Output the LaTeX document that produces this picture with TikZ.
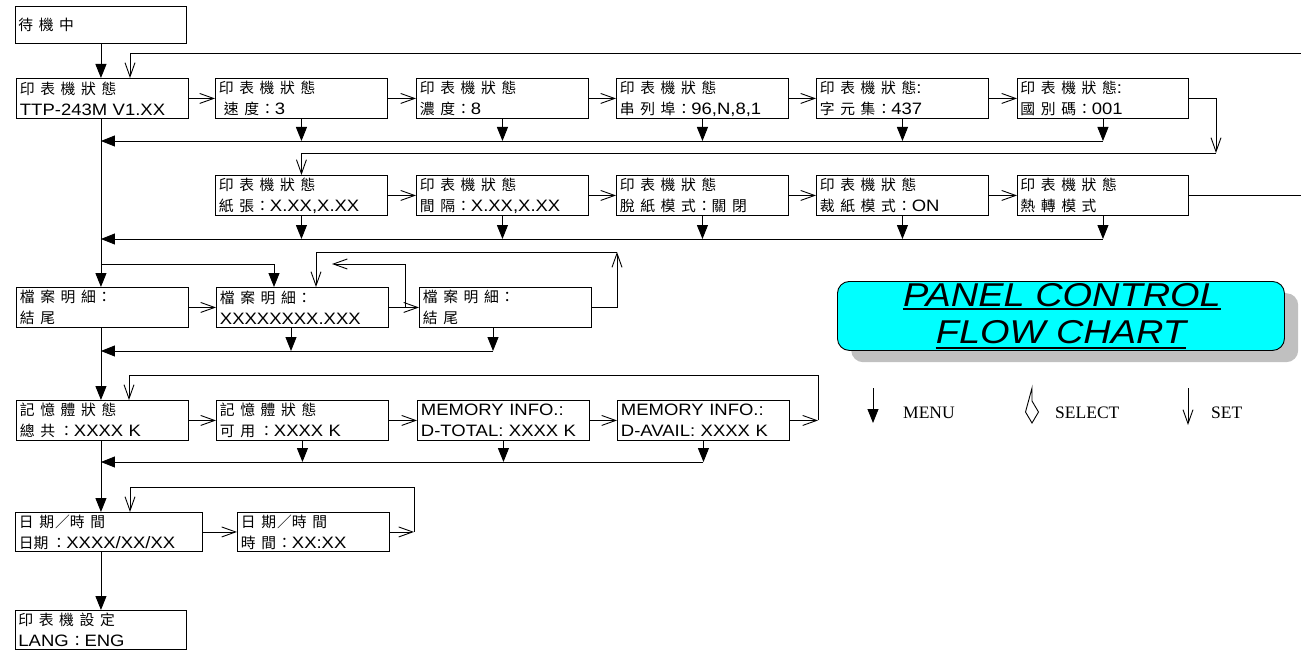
\documentclass[tikz,border=0pt]{standalone}
\usepackage{fontspec}
\usetikzlibrary{arrows.meta}
\newfontfamily\cjkf{Noto Sans CJK TC}
\newfontfamily\latf[FakeStretch=1.12]{Liberation Sans}
\newfontfamily\titf[FakeStretch=1.15]{Liberation Sans}
\newfontfamily\legf{Liberation Serif}
\definecolor{shad}{HTML}{C0C0C0}
\definecolor{cyanb}{HTML}{00FFFF}
\newlength\cjsp \setlength\cjsp{5.6pt}
\def\cjfirst#1{#1\cjloop}
\def\cjloop#1{\ifx\relax#1\else\kern\cjsp#1\expandafter\cjloop\fi}
\newcommand\cj[1]{{\fontsize{14.8}{21}\selectfont\cjkf\cjfirst#1\relax}}
\newcommand\cjc{{\fontsize{14.8}{21}\selectfont\cjkf\kern1pt ：}}
\tikzset{
 box/.style={draw, line width=0.9pt, anchor=north west, inner xsep=3pt, inner ysep=0pt,
   align=left, minimum height=40pt, minimum width=172pt, text width=165pt,
   font=\fontsize{16.5}{21}\selectfont\latf},
 menu/.style={line width=0.9pt, -{Triangle[length=14pt,width=11pt]}},
 setar/.style={line width=0.9pt, -{Straight Barb[length=14pt,width=10pt]}},
 ln/.style={line width=0.9pt},
 ttl/.style={anchor=base, inner sep=0pt, font=\titf\itshape\fontsize{33}{33}\selectfont},
 leg/.style={anchor=base west, inner sep=0pt, font=\legf\fontsize{17.5}{17.5}\selectfont},
}
\begin{document}
\begin{tikzpicture}[x=1pt,y=-1pt]
\fill[white] (0,0) rectangle (1301,650);
\useasboundingbox (0,0) rectangle (1301,650);

% boxes
\node[box, minimum width=171pt, minimum height=37pt] (b0) at (15,6) {\cj{待機中}};

\node[box] (r2a) at (16,78) {\cj{印表機狀態}\\TTP-243M V1.XX};
\node[box] (r2b) at (215,78) {\cj{印表機狀態}\\\hspace*{5pt}\cj{速度}\cjc 3};
\node[box] (r2c) at (416,78) {\cj{印表機狀態}\\\cj{濃度}\cjc 8};
\node[box] (r2d) at (616,78) {\cj{印表機狀態}\\\cj{串列埠}\cjc 96,N,8,1};
\node[box] (r2e) at (816,78) {\cj{印表機狀態}:\\\cj{字元集}\cjc 437};
\node[box, minimum width=171pt] (r2f) at (1017,78) {\cj{印表機狀態}:\\\cj{國別碼}\cjc 001};

\node[box] (r3a) at (215,175) {\cj{印表機狀態}\\\cj{紙張}\cjc X.XX,X.XX};
\node[box] (r3b) at (416,175) {\cj{印表機狀態}\\\cj{間隔}\cjc X.XX,X.XX};
\node[box] (r3c) at (616,175) {\cj{印表機狀態}\\\cj{脫紙模式}\cjc\cj{關閉}};
\node[box] (r3d) at (816,175) {\cj{印表機狀態}\\\cj{裁紙模式}\cjc ON};
\node[box, minimum width=171pt] (r3e) at (1017,175) {\cj{印表機狀態}\\\cj{熱轉模式}};

\node[box] (r4a) at (16,287) {\cj{檔案明細}\cjc\\\cj{結尾}};
\node[box] (r4b) at (216,287) {\cj{檔案明細}\cjc\\XXXXXXXX.XXX};
\node[box] (r4c) at (419,287) {\cj{檔案明細}\cjc\\\cj{結尾}};

\node[box] (r5a) at (16,400) {\cj{記憶體狀態}\\\cj{總共}\hspace{3pt}\cjc XXXX K};
\node[box] (r5b) at (216,400) {\cj{記憶體狀態}\\\cj{可用}\hspace{3pt}\cjc XXXX K};
\node[box] (r5c) at (417,400) {MEMORY INFO.:\\D-TOTAL: XXXX K};
\node[box] (r5d) at (617,400) {MEMORY INFO.:\\D-AVAIL: XXXX K};

\node[box, minimum width=187pt, text width=180pt, minimum height=39pt] (r6a) at (15,512) {\cj{日期}\kern1pt{\fontsize{14.8}{21}\selectfont\cjkf ／}\cj{時間}\\{\fontsize{14.8}{21}\selectfont\cjkf 日期}\hspace{2pt}\cjc XXXX/XX/XX};
\node[box, minimum width=152pt, text width=145pt, minimum height=39pt] (r6b) at (237,512) {\cj{日期}\kern1pt{\fontsize{14.8}{21}\selectfont\cjkf ／}\cj{時間}\\\cj{時間}\cjc XX:XX};

\node[box, minimum width=171pt, minimum height=39pt] (r7) at (15,610) {\cj{印表機設定}\\LANG\cjc ENG};

% coordinates
\coordinate (topR) at (1301,53);
\coordinate (t1) at (130,53);
\coordinate (h2) at (0,141);
\coordinate (c2) at (1216,153);
\coordinate (redge) at (1301,0);
\coordinate (h3) at (0,239);
\coordinate (br) at (274,264);
\coordinate (il) at (405,264);
\coordinate (ile) at (332,264);
\coordinate (ol) at (617,252);
\coordinate (ol2) at (316,252);
\coordinate (d4a) at (291,0);
\coordinate (d4b) at (493,0);
\coordinate (h4) at (0,351);
\coordinate (m5) at (818,375);
\coordinate (m5l) at (129,375);
\coordinate (h5) at (0,462);
\coordinate (m6) at (414,487);
\coordinate (m6l) at (130,487);

% main vertical
\draw[menu] (b0.south) -- (b0.south |- r2a.north);
\draw[menu] (b0.south |- r2a.south) -- (b0.south |- r4a.north);
\draw[menu] (b0.south |- r4a.south) -- (b0.south |- r5a.north);
\draw[menu] (b0.south |- r5a.south) -- (b0.south |- r6a.north);
\draw[menu] (b0.south |- r6a.south) -- (b0.south |- r7.north);

% row 2
\draw[setar] (topR) -- (t1) -- (t1 |- r2a.north);
\draw[setar] (r2a.east) -- (r2b.west);
\draw[setar] (r2b.east) -- (r2c.west);
\draw[setar] (r2c.east) -- (r2d.west);
\draw[setar] (r2d.east) -- (r2e.west);
\draw[setar] (r2e.east) -- (r2f.west);
\foreach \n in {r2b,r2c,r2d,r2e,r2f} \draw[menu] (\n.south) -- (\n.south |- h2);
\draw[menu] (r2f.south |- h2) -- (b0.south |- h2);
\draw[setar] (r2f.east) -| (c2);
\draw[setar] (c2) -- (c2 -| r3a.north) -- (r3a.north);

% row 3
\draw[setar] (r3a.east) -- (r3b.west);
\draw[setar] (r3b.east) -- (r3c.west);
\draw[setar] (r3c.east) -- (r3d.west);
\draw[setar] (r3d.east) -- (r3e.west);
\draw[ln] (r3e.east) -- (r3e.east -| redge);
\foreach \n in {r3a,r3b,r3c,r3d,r3e} \draw[menu] (\n.south) -- (\n.south |- h3);
\draw[menu] (r3e.south |- h3) -- (b0.south |- h3);

% row 4
\draw[menu] (b0.south |- br) -- (br) -- (br |- r4b.north);
\draw[setar] (r4a.east) -- (r4b.west);
\draw[setar] (r4b.east) -- (r4c.west);
\draw[setar] (il |- r4b.east) -- (il) -- (ile);
\draw[setar] (r4c.east) -| (ol);
\draw[setar] (ol) -- (ol2) -- (ol2 |- r4b.north);
\draw[menu] (d4a |- r4b.south) -- (d4a |- h4);
\draw[menu] (d4b |- r4c.south) -- (d4b |- h4);
\draw[menu] (d4b |- h4) -- (b0.south |- h4);

% row 5
\draw[setar] (r5a.east) -- (r5b.west);
\draw[setar] (r5b.east) -- (r5c.west);
\draw[setar] (r5c.east) -- (r5d.west);
\draw[setar] (r5d.east) -- (r5d.east -| m5);
\draw[setar] (r5d.east -| m5) -- (m5) -- (m5l) -- (m5l |- r5a.north);
\foreach \n in {r5b,r5c,r5d} \draw[menu] (\n.south) -- (\n.south |- h5);
\draw[menu] (r5d.south |- h5) -- (b0.south |- h5);

% row 6
\draw[setar] (r6a.east) -- (r6b.west);
\draw[setar] (r6b.east) -- (r6b.east -| m6);
\draw[setar] (r6b.east -| m6) -- (m6) -- (m6l) -- (m6l |- r6a.north);

% title
\node[fill=shad, rounded corners=12pt, minimum width=447pt, minimum height=69pt, anchor=north west, inner sep=0pt] (tshadow) at (851,293) {};
\node[draw, fill=cyanb, line width=0.9pt, rounded corners=12pt, minimum width=447pt, minimum height=69pt, anchor=north west, inner sep=0pt] (tbox) at (837,281) {};
\node[ttl] (tl1) at (1062,306) {PANEL CONTROL};
\node[ttl] (tl2) at (1061,343) {FLOW CHART};
\draw[line width=1.6pt] ([yshift=-3pt]tl1.base west) -- ([yshift=-3pt]tl1.base east);
\draw[line width=1.6pt] ([yshift=-5pt]tl2.base west) -- ([yshift=-5pt]tl2.base east);

% legend
\coordinate (lm1) at (873,388);
\coordinate (lm2) at (873,423);
\draw[menu] (lm1) -- (lm2);
\node[leg] (lmenu) at (903,418) {MENU};
\coordinate (ls1) at (1032,388);
\coordinate (ls2) at (1032,401);
\draw[ln] (ls1) -- (ls2) -- (1038.5,412) -- (1032,423) -- (1025.5,412) -- cycle;
\node[leg] (lsel) at (1055,418) {SELECT};
\coordinate (lt1) at (1188,388);
\coordinate (lt2) at (1188,425);
\draw[setar] (lt1) -- (lt2);
\node[leg] (lset) at (1211,418) {SET};
\end{tikzpicture}
\end{document}
